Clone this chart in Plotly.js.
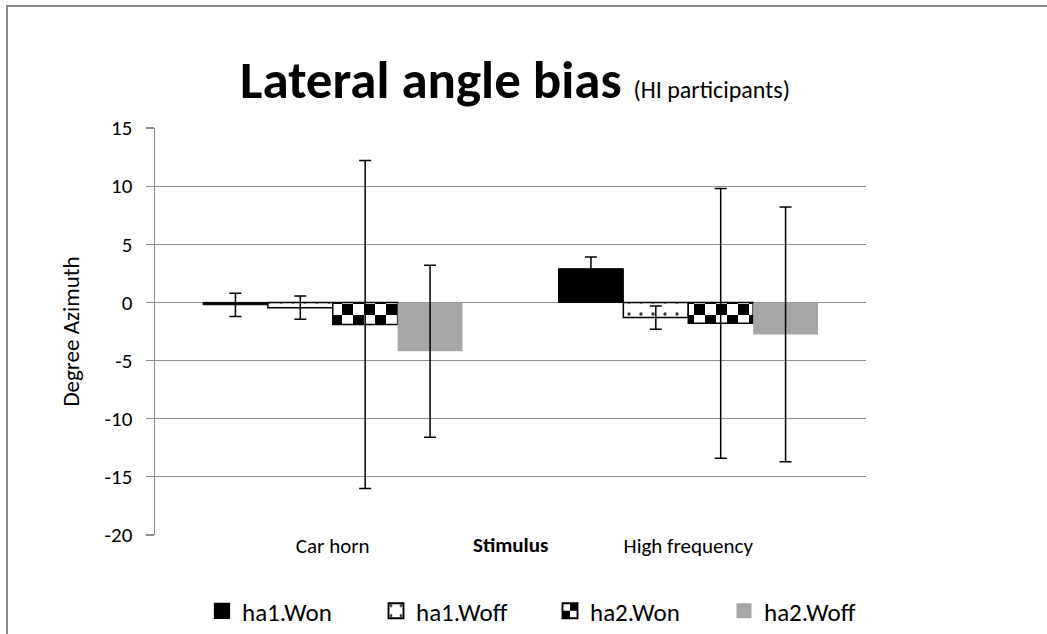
<!DOCTYPE html>
<html>
<head>
<meta charset="utf-8">
<script src="https://cdn.plot.ly/plotly-3.0.1.min.js"></script>
<style>
  html, body { margin: 0; padding: 0; background: #fff; }
  #wrap { position: relative; width: 1047px; height: 634px; overflow: hidden; }
  #chart { position: absolute; left: 0; top: 0; width: 1047px; height: 634px; }
  #frame { position: absolute; left: 6px; top: 5px; width: 1045px; height: 627px;
           border-left: 2px solid #8a8a8a; border-top: 2px solid #8a8a8a;
           border-bottom: 1px solid #d9d9d9; pointer-events: none; }
</style>
</head>
<body>
<div id="wrap"><div id="chart"></div><div id="frame"></div></div>
<script>
// ---- data ----
const categories = ["Car horn", "High frequency"];
const seriesNames = ["ha1.Won", "ha1.Woff", "ha2.Won", "ha2.Woff"];
const ha1Won  = [-0.2, 2.9];
const ha1Woff = [-0.45, -1.3];
const ha2Won  = [-1.9, -1.8];
const ha2Woff = [-4.2, -2.75];
const err_ha1Won  = [1.0, 1.0];
const err_ha1Woff = [1.0, 1.0];
const err_ha2Won  = [14.1, 11.6];
const err_ha2Woff = [7.4, 10.95];
const yTicks = [-20, -15, -10, -5, 0, 5, 10, 15];

const FONT = "Carlito, Lato, 'Open Sans', sans-serif";
const errStyle = (arr) => ({type: 'data', array: arr, visible: true, color: '#000', thickness: 1.5, width: 6});

const data = [
  {type: 'bar', name: seriesNames[0], x: categories, y: ha1Won, error_y: errStyle(err_ha1Won),
   marker: {color: '#000', line: {color: '#000', width: 1}}},
  {type: 'bar', name: seriesNames[1], x: categories, y: ha1Woff, error_y: errStyle(err_ha1Woff),
   marker: {color: '#fff', line: {color: '#000', width: 1.5},
            pattern: {shape: '.', fgcolor: '#333', bgcolor: '#fff', size: 12, solidity: 0.06}}},
  {type: 'bar', name: seriesNames[2], x: categories, y: ha2Won, error_y: errStyle(err_ha2Won),
   marker: {color: '#fff', line: {color: '#000', width: 1.5},
            pattern: {shape: '+', fgcolor: '#000', bgcolor: '#fff', size: 11, solidity: 0.5}}},
  {type: 'bar', name: seriesNames[3], x: categories, y: ha2Woff, error_y: errStyle(err_ha2Woff),
   marker: {color: '#a6a6a6', line: {width: 0}}}
];

const layout = {
  width: 1047, height: 634,
  margin: {l: 155, r: 181, t: 128, b: 99},
  paper_bgcolor: '#fff', plot_bgcolor: '#fff',
  font: {family: FONT, color: '#000', size: 21},
  barmode: 'group', bargap: 0.27, bargroupgap: 0,
  showlegend: true,
  title: {
    text: "<b>Lateral angle bias</b> <span style='font-size:24px'>(HI participants)</span>",
    font: {family: FONT, size: 53, color: '#000'},
    xref: 'container', x: 515/1047, xanchor: 'center',
    yref: 'container', y: 1 - 79/634, yanchor: 'middle'
  },
  xaxis: {
    type: 'category', categoryarray: categories,
    showline: false, showgrid: false, zeroline: false, ticks: '',
    tickfont: {family: FONT, size: 21}, ticklabelstandoff: -4
  },
  xaxis2: {
    type: 'linear', overlaying: 'x', anchor: 'free', position: 20/35,
    range: [-0.5, 1.5], tickvals: [-0.5, 0.5, 1.5], showticklabels: false,
    ticks: 'outside', ticklen: 5, tickcolor: '#8a8a8a', tickwidth: 1.5,
    showline: false, showgrid: false, zeroline: false
  },
  yaxis: {
    range: [-20, 15], tickvals: yTicks, ticktext: yTicks.map(String),
    showgrid: true, gridcolor: '#8c8c8c', gridwidth: 1.2,
    zeroline: true, zerolinecolor: '#8c8c8c', zerolinewidth: 1.2,
    showline: true, linecolor: '#8c8c8c', linewidth: 1.5,
    ticks: 'outside', ticklen: 8, tickcolor: '#8c8c8c', tickwidth: 1.2,
    ticklabelstandoff: 9,
    tickfont: {family: FONT, size: 21},
    title: {text: 'Degree Azimuth', font: {family: FONT, size: 23}, standoff: 18},
    automargin: false
  },
  legend: {
    orientation: 'h', xref: 'paper', x: (202 - 155) / 711, xanchor: 'left',
    yref: 'container', y: 1 - 611/634, yanchor: 'middle',
    font: {family: FONT, size: 25, color: '#000'},
    entrywidth: 129, traceorder: 'normal', bgcolor: 'rgba(0,0,0,0)'
  },
  annotations: [
    {text: '<b>Stimulus</b>', xref: 'paper', yref: 'paper', x: (510 - 155) / 711, y: (535 - 545) / 407,
     xanchor: 'center', yanchor: 'middle', showarrow: false, font: {family: FONT, size: 21, color: '#000'}}
  ]
};

Plotly.newPlot('chart', data, layout, {displayModeBar: false, staticPlot: true}).then(gd => {
  const ns = 'http://www.w3.org/2000/svg';
  const svg = gd.querySelector('svg.main-svg');
  let defs = svg.querySelector('defs');
  function makeChecker(id, s) {
    const pat = document.createElementNS(ns, 'pattern');
    pat.setAttribute('id', id);
    pat.setAttribute('patternUnits', 'userSpaceOnUse');
    pat.setAttribute('width', 2 * s);
    pat.setAttribute('height', 2 * s);
    const rects = [[0, 0, 2 * s, 2 * s, '#fff'], [s, 0, s, s, '#000'], [0, s, s, s, '#000']];
    rects.forEach(r => {
      const el = document.createElementNS(ns, 'rect');
      el.setAttribute('x', r[0]); el.setAttribute('y', r[1]);
      el.setAttribute('width', r[2]); el.setAttribute('height', r[3]);
      el.setAttribute('fill', r[4]);
      pat.appendChild(el);
    });
    defs.appendChild(pat);
  }
  makeChecker('checkerBar', 11);
  makeChecker('checkerLeg', 6);
  const barTraces = gd.querySelectorAll('.barlayer .trace');
  if (barTraces[2]) barTraces[2].querySelectorAll('.point path').forEach(p => { p.style.fill = 'url(#checkerBar)'; });
  const legTraces = gd.querySelectorAll('.legend .traces');
  legTraces.forEach((t, i) => {
    t.querySelectorAll('.legendpoints path').forEach(p => {
      const tr = p.getAttribute('transform') || '';
      p.setAttribute('transform', tr + ' scale(1.25)');
      if (i === 2) p.style.fill = 'url(#checkerLeg)';
    });
  });
});
</script>
</body>
</html>
